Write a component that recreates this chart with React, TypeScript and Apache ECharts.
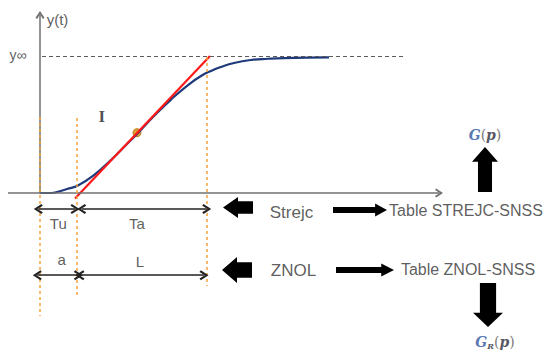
import React, { useEffect, useRef } from "react";
import * as echarts from "echarts";

// Step response curve (x: time units, y: fraction of y∞)
const curveX = [0, 11, 19, 27, 38, 54, 71, 88, 98, 114, 131, 148, 161, 171, 181, 194, 211, 228, 244, 289];
const curveY = [0, 0, 0.011, 0.029, 0.055, 0.131, 0.241, 0.365, 0.438, 0.562, 0.682, 0.788, 0.854, 0.891, 0.92, 0.949, 0.971, 0.98, 0.985, 0.99];

// Tangent at the inflection point
const tangentX = [35, 170];
const tangentY = [-0.04, 1.0];
const inflectionPoint = [97, 0.44];

// Steady-state level
const yInfinity = 1.0;
const yInfSpan = [2, 366];

// Axes extents
const xAxisSpan = [-32, 399];
const yAxisTop = 1.3;

// Orange guide lines: [x, yTop, yBottom]
const guideX = [0, 37, 167];
const guideTop = [0.555, 0.547, 0.993];
const guideBottom = [-0.898, -0.759, -0.679];

// Dimension arrows: Tu, Ta, a, L
const dimNames = ["Tu", "Ta", "a", "L"];
const dimStart = [-1.7, 41.7, -2.7, 40];
const dimEnd = [35, 166.7, 38.3, 164];
const dimLevel = [-0.117, -0.117, -0.6, -0.6];
const dimLabelX = [18.3, 97, 21.7, 100];
const dimLabelY = [-0.226, -0.226, -0.484, -0.501];

// Block arrows
const blockKinds = ["left", "left", "right", "right", "up", "down"];
const blockX = [198, 197, 320, 325, 445, 448];
const blockY = [-0.106, -0.562, -0.124, -0.562, 0.172, -0.817];
const blockW = [30, 30, 54, 58, 26, 30];
const blockH = [21, 26, 13, 13, 45, 44];

// Text annotations
const textNames = ["y(t)", "y∞", "I", "Strejc", "ZNOL", "Table STREJC-SNSS", "Table ZNOL-SNSS", "{g|G}{t|(}{p|p}{t|)}", "{g|G}{s|R}{t|(}{p|p}{t|)}"];
const textX = [17.5, -22, 61.7, 251.5, 253.5, 426, 428, 445, 455];
const textY = [1.27, 1.007, 0.557, -0.139, -0.569, -0.131, -0.562, 0.423, -1.088];

const PATHS: Record<string, string> = {
  left: "path://M0,50 L50,0 L50,20 L100,20 L100,80 L50,80 L50,100 Z",
  right: "path://M0,27 L78,27 L78,0 L100,50 L78,100 L78,73 L0,73 Z",
  up: "path://M50,0 L100,33 L77,33 L77,100 L23,100 L23,33 L0,33 Z",
  down: "path://M23,0 L77,0 L77,68 L100,68 L50,100 L0,68 L23,68 Z",
};

const CHEVRON = "path://M50,0 L100,72 L82,84 L50,34 L18,84 L0,72 Z";

export default function App() {
  const ref = useRef<HTMLDivElement>(null);
  useEffect(() => {
    if (!ref.current) return;
    const chart = echarts.init(ref.current, undefined, { renderer: "svg" });
    const sans = "Liberation Sans, Arial, sans-serif";
    const textStyles: any[] = [
      { fontSize: 15, fontFamily: sans, color: "#333" },
      { fontSize: 14, fontFamily: sans, color: "#333" },
      { fontSize: 17, fontFamily: "Liberation Serif, serif", fontWeight: "bold", color: "#222" },
      { fontSize: 17, fontFamily: sans, color: "#333" },
      { fontSize: 17, fontFamily: sans, color: "#333" },
      { fontSize: 16, fontFamily: sans, color: "#333" },
      { fontSize: 16, fontFamily: sans, color: "#333" },
      {},
      {},
    ];
    const rich = {
      g: { fontSize: 14, fontFamily: "DejaVu Serif, serif", fontStyle: "italic", fontWeight: "bold", color: "#2e54a0" },
      p: { fontSize: 14, fontFamily: "DejaVu Serif, serif", fontStyle: "italic", fontWeight: "bold", color: "#2a2a3a" },
      t: { fontSize: 14, fontFamily: "DejaVu Serif, serif", color: "#555" },
      s: { fontSize: 8, fontFamily: "DejaVu Serif, serif", fontStyle: "italic", fontWeight: "bold", color: "#2a2a3a", padding: [7, 0, 0, 0] },
    };

    const option: any = {
      animation: false,
      grid: { left: 0, right: 0, top: 0, bottom: 0 },
      xAxis: { type: "value", min: -40, max: 504, show: false },
      yAxis: { type: "value", min: -161 / 137, max: 193 / 137, show: false },
      series: [
        {
          type: "line",
          data: [],
          silent: true,
          markLine: {
            silent: true,
            symbol: ["none", CHEVRON],
            symbolSize: [9, 8],
            label: { show: false },
            lineStyle: { color: "#707070", width: 1.5, type: "solid" },
            data: [
              [{ coord: [xAxisSpan[0], 0] }, { coord: [xAxisSpan[1], 0] }],
              [{ coord: [0, 0] }, { coord: [0, yAxisTop] }],
            ],
          },
        },
        {
          type: "line",
          data: [],
          silent: true,
          markLine: {
            silent: true,
            symbol: ["none", "none"],
            label: { show: false },
            lineStyle: { color: "#5a5a5a", width: 1.2, type: [4, 3] },
            data: [[{ coord: [yInfSpan[0], yInfinity] }, { coord: [yInfSpan[1], yInfinity] }]],
          },
        },
        {
          type: "line",
          data: [],
          silent: true,
          markLine: {
            silent: true,
            symbol: ["none", "none"],
            label: { show: false },
            lineStyle: { color: "#f7a23a", width: 1.5, type: [3, 3], opacity: 1 },
            data: guideX.map((x, i) => [{ coord: [x, guideTop[i]] }, { coord: [x, guideBottom[i]] }]),
          },
        },
        {
          type: "line",
          data: curveX.map((x, i) => [x, curveY[i]]),
          smooth: true,
          showSymbol: false,
          symbol: "none",
          silent: true,
          lineStyle: { color: "#1f3a7a", width: 2.2 },
        },
        {
          type: "line",
          data: tangentX.map((x, i) => [x, tangentY[i]]),
          showSymbol: false,
          symbol: "none",
          silent: true,
          lineStyle: { color: "#ff1a1a", width: 2.2 },
        },
        {
          type: "scatter",
          data: [inflectionPoint],
          symbolSize: 8,
          silent: true,
          itemStyle: { color: "#e0a030", borderColor: "#b57a1a", borderWidth: 1, opacity: 1 },
        },
        {
          type: "line",
          data: [],
          silent: true,
          markLine: {
            silent: true,
            symbol: [CHEVRON, CHEVRON],
            symbolSize: [10, 9],
            label: { show: false },
            lineStyle: { color: "#222", width: 1.7, type: "solid" },
            data: dimNames.map((_, i) => [{ coord: [dimStart[i], dimLevel[i]] }, { coord: [dimEnd[i], dimLevel[i]] }]),
          },
        },
        {
          type: "scatter",
          silent: true,
          itemStyle: { color: "#000", opacity: 1 },
          data: blockKinds.map((k, i) => ({
            value: [blockX[i], blockY[i]],
            symbol: PATHS[k],
            symbolSize: [blockW[i], blockH[i]],
          })),
        },
        {
          type: "scatter",
          silent: true,
          symbolSize: 0,
          label: { show: true, position: "inside", formatter: "{b}", fontSize: 15, fontFamily: sans, color: "#333" },
          data: dimNames.map((n, i) => ({ name: n, value: [dimLabelX[i], dimLabelY[i]] })),
        },
        {
          type: "scatter",
          silent: true,
          symbolSize: 0,
          label: { show: true, position: "inside", formatter: "{b}", rich },
          data: textNames.map((n, i) => ({
            name: n,
            value: [textX[i], textY[i]],
            label: { ...textStyles[i], rich },
          })),
        },
      ],
    };
    chart.setOption(option);
    return () => chart.dispose();
  }, []);
  return (
    <div
      ref={ref}
      style={{ position: "fixed", left: 0, top: 0, width: 544, height: 354, background: "#fff" }}
    />
  );
}
